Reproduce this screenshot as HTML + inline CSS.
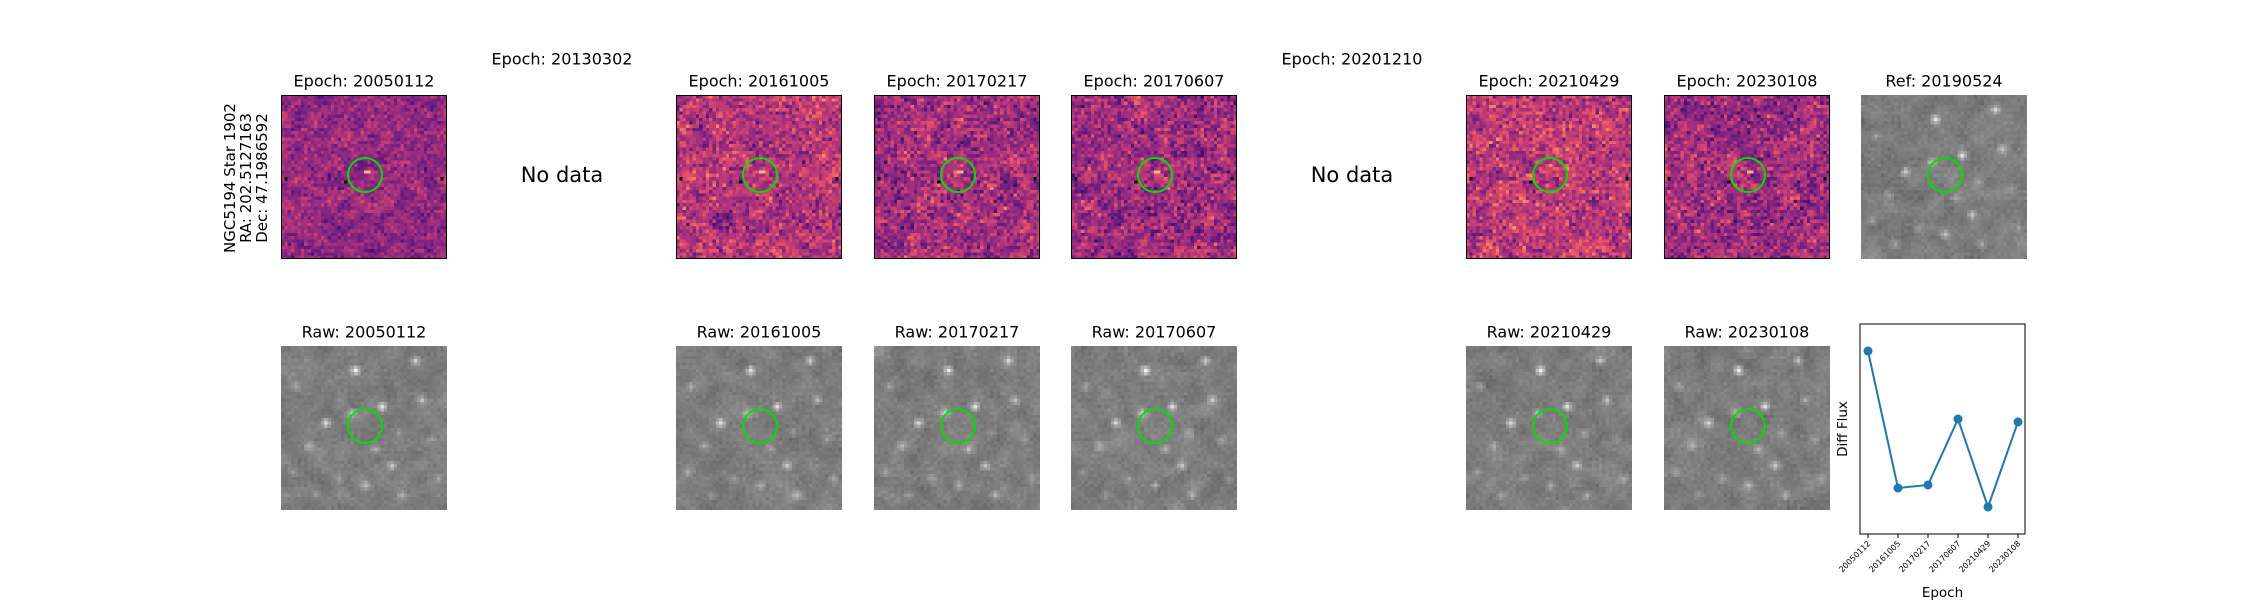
<!DOCTYPE html>
<html><head><meta charset="utf-8">
<style>
body{margin:0;background:#fff;width:2250px;height:600px;overflow:hidden;position:relative;font-family:"DejaVu Sans","Liberation Sans",sans-serif;color:#000}
.t{position:absolute;font-size:16px;white-space:nowrap;transform:translate(-50%,-50%)}
canvas{position:absolute;image-rendering:pixelated;width:166px;height:164px}
.frame{position:absolute;width:164px;height:162px;border:1px solid #000;box-sizing:content-box}
.circ{position:absolute;width:32px;height:32px;border:2px solid #00e000;border-radius:50%}
</style></head><body>
<div class="t" style="left:246px;top:178px;transform:translate(-50%,-50%) rotate(-90deg);text-align:center;line-height:16px;font-size:15px">NGC5194 Star 1902<br>RA: 202.5127163<br>Dec: 47.1986592</div>
<div id="root"></div>
<svg id="flux" width="2250" height="600" style="position:absolute;left:0;top:0"></svg>
<script>
const epochs=["20050112","20130302","20161005","20170217","20170607","20201210","20210429","20230108"];
const hasData=[1,0,1,1,1,0,1,1];
const fluxEpochs=["20050112","20161005","20170217","20170607","20210429","20230108"];
const fluxValues=[1.0,0.148,0.167,0.577,0.03,0.559];

function rng(s){return function(){s=(s*1664525+1013904223)>>>0;return s/4294967296;}}
function gauss(r){return (r()+r()+r()+r()-2)*1.73;}
const magmaStops=[[0,0,0,4],[0.13,28,16,68],[0.25,79,18,123],[0.38,129,37,129],[0.5,181,54,122],[0.63,229,80,100],[0.75,251,135,97],[0.88,254,194,135],[1,252,253,191]];
function magma(v){v=Math.max(0,Math.min(1,v));for(let i=1;i<magmaStops.length;i++){const a=magmaStops[i-1],b=magmaStops[i];if(v<=b[0]){const f=(v-a[0])/(b[0]-a[0]);return [a[1]+(b[1]-a[1])*f,a[2]+(b[2]-a[2])*f,a[3]+(b[3]-a[3])*f];}}return [252,253,191];}
const stars=[[22,7,1],[30,18,0.9],[21,20,0.6],[13,23,0.8],[40,4,0.7],[8,30,0.4],[33,36,0.6],[25,42,0.5],[36,45,0.4],[45,28,0.3],[4,12,0.4],[17,40,0.3],[42,16,0.5],[28,31,0.4],[10,45,0.3],[47,40,0.3],[3,38,0.3],[35,26,0.3]];
function draw(cv,type,seed){
 const N=50;cv.width=N;cv.height=N;const ctx=cv.getContext('2d');const img=ctx.createImageData(N,N);const r=rng(seed);
 const raw=[];for(let i=0;i<N*N;i++)raw.push(gauss(r));
 const sm=[];for(let y=0;y<N;y++)for(let x=0;x<N;x++){let s=0,c=0;for(let dy=-2;dy<=2;dy++)for(let dx=-2;dx<=2;dx++){const xx=x+dx,yy=y+dy;if(xx>=0&&yy>=0&&xx<N&&yy<N){s+=raw[yy*N+xx];c++;}}sm.push(s/c*2.2);}
 const bias=[0.42,0,0.5,0.46,0.44,0,0.52,0.44][seed%8]||0.46;
 const noise=seed===0?0.06:0.09;
 for(let y=0;y<N;y++)for(let x=0;x<N;x++){let c;const i0=y*N+x;
  if(type==='diff'){let v=bias+raw[i0]*noise+sm[i0]*0.04;
    if((x===25||x===26)&&y===23&&seed!==6)v=0.85;
    if((x===1&&y===25)||(x===48&&y===25)||(x===19&&y===26))v=0.03;
    c=magma(v);}
  else{let v=125+raw[i0]*5+sm[i0]*9;for(const s of stars){const d=(x-s[0])**2+(y-s[1])**2;v+=110*s[2]*Math.exp(-d/1.5);}v=Math.max(60,Math.min(255,v));c=[v,v,v];}
  const i=i0*4;img.data[i]=c[0];img.data[i+1]=c[1];img.data[i+2]=c[2];img.data[i+3]=255;}
 ctx.putImageData(img,0,0);
}
const root=document.getElementById('root');
function addImg(x,y,type,seed,name,title,ty){
 const cv=document.createElement('canvas');cv.style.left=x+'px';cv.style.top=y+'px';
 
 
 root.appendChild(cv);draw(cv,type,seed);
 if(type==='diff'){const f=document.createElement('div');f.className='frame';f.style.left=(x)+'px';f.style.top=(y)+'px';
  
  
  root.appendChild(f);}
 const c=document.createElement('div');c.className='circ';c.style.left=(x+84-18)+'px';c.style.top=(y+80-18)+'px';
 
 
 root.appendChild(c);
 const t=document.createElement('div');t.className='t';t.textContent=title;t.style.left=(x+83)+'px';t.style.top=ty+'px';
 
 
 root.appendChild(t);
}
epochs.forEach((e,k)=>{const x=Math.round(281+197.5*k);
 if(hasData[k]){addImg(x,95,'diff',k,'diff-image-'+e,'Epoch: '+e,81);addImg(x,346,'raw',k*13+5,'raw-image-'+e,'Raw: '+e,332);}
 else{const t=document.createElement('div');t.className='t';t.textContent='Epoch: '+e;t.style.left=(x+83)+'px';t.style.top='59px';
  
  
  root.appendChild(t);
  const n=document.createElement('div');n.className='t';n.textContent='No data';n.style.left=(x+83)+'px';n.style.top='175px';n.style.fontSize='21px';
  
  
  root.appendChild(n);}
});
addImg(Math.round(281+197.5*8),95,'raw',99,'reference-image','Ref: 20190524',81);

// flux chart
const svg=document.getElementById('flux');const NS='http://www.w3.org/2000/svg';
const L=1860,R=2025,T=324,B=534;
const yMin=-0.138,yMax=1.168;
const xS=i=>1868+i*(2018-1868)/(fluxEpochs.length-1);
const yS=v=>B-(v-yMin)/(yMax-yMin)*(B-T);
function el(tag,attrs,name){const e=document.createElementNS(NS,tag);for(const k in attrs)e.setAttribute(k,attrs[k]);
 
 
 svg.appendChild(e);return e;}
el('rect',{x:L,y:T,width:R-L,height:B-T,fill:'none',stroke:'#000','stroke-width':1},'plot-frame');
el('polyline',{points:fluxValues.map((v,i)=>xS(i)+','+yS(v)).join(' '),fill:'none',stroke:'#1f77b4','stroke-width':2},'flux-line');
fluxValues.forEach((v,i)=>{el('circle',{cx:xS(i),cy:yS(v),r:4.5,fill:'#1f77b4'},'flux-point');});
fluxEpochs.forEach((e,i)=>{const x=xS(i);el('line',{x1:x,y1:B,x2:x,y2:B+4,stroke:'#000'},'x-tick');
 const t=el('text',{x:x+3,y:B+10,'font-size':8,'text-anchor':'end',transform:`rotate(-45 ${x+3} ${B+10})`,'font-family':'DejaVu Sans, sans-serif'},'x-tick-label');t.textContent=e;});
const xl=el('text',{x:(L+R)/2,y:597,'font-size':13.5,'text-anchor':'middle','font-family':'DejaVu Sans, sans-serif'},'x-axis-title');xl.textContent='Epoch';
const yl=el('text',{x:1847,y:(T+B)/2,'font-size':13.5,'text-anchor':'middle',transform:`rotate(-90 1847 ${(T+B)/2})`,'font-family':'DejaVu Sans, sans-serif'},'y-axis-title');yl.textContent='Diff Flux';
</script>
</body></html>
